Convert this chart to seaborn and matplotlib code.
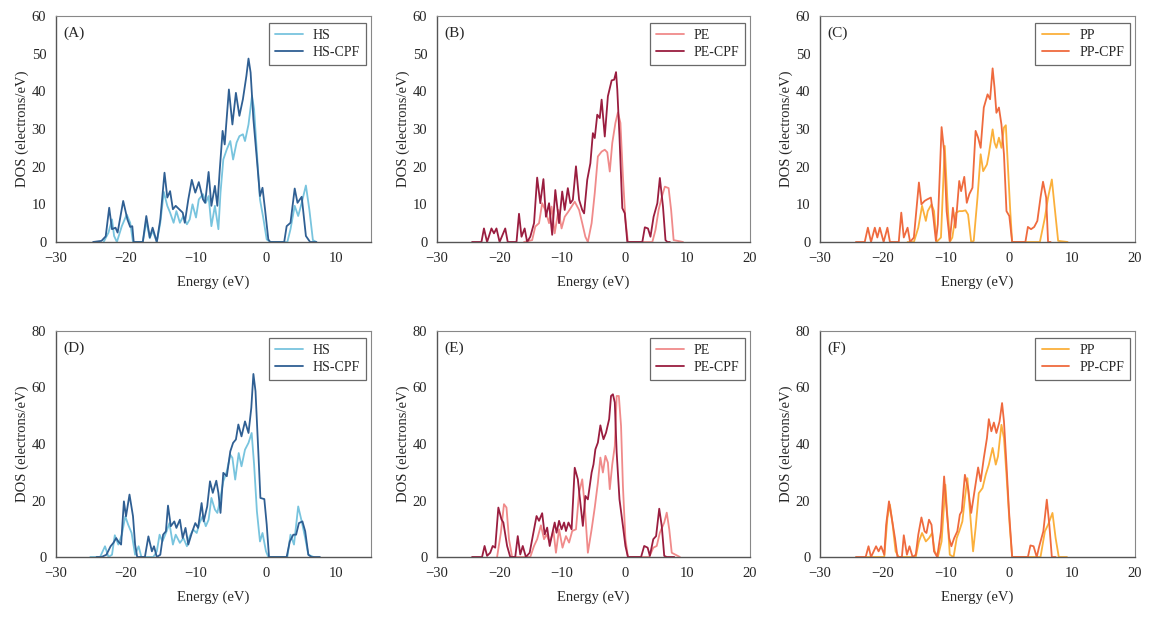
import numpy as np
import pandas as pd
import seaborn as sns
import matplotlib.pyplot as plt

# ---- data (energy in eV, DOS in electrons/eV) ----
# (A) HS / HS-CPF
hs_a_e = [-23.2, -22.5, -22.0, -21.7, -21.3, -20.6, -19.9, -19.4, -19.0, -17.6, -17.1, -16.6, -16.2, -15.6,
          -15.1, -14.6, -14.1, -13.7, -13.2, -12.8, -12.3, -11.8, -11.3, -10.9, -10.5, -10.0, -9.6, -9.0,
          -8.6, -8.2, -7.8, -7.3, -6.8, -6.5, -6.1, -5.6, -5.1, -4.7, -4.2, -3.8, -3.3, -3.0, -2.5, -2.0,
          -1.7, -1.3, -0.86, -0.4, 0.1, 0.6, 3.05, 3.5, 4.1, 4.6, 5.1, 5.7, 6.2, 6.7, 7.2]
hs_a_dos = [0, 2.5, 6.0, 1.6, 0, 4.2, 7.3, 5.1, 0, 0, 5.5, 1.0, 3.0, 0,
            5.1, 13.3, 9.6, 7.8, 5.1, 8.2, 5.1, 6.9, 4.7, 6.0, 10.0, 6.5, 11.3, 12.7,
            10.4, 12.2, 4.2, 9.6, 3.4, 13.1, 21.9, 24.6, 26.8, 21.9, 26.4, 28.1, 28.6, 26.8, 31.2, 38.8,
            35.2, 23.7, 11.3, 6.5, 0.7, 0, 0, 3.4, 9.6, 6.9, 10.4, 15.0, 8.5, 0.5, 0]
hscpf_a_e = [-24.7, -23.5, -22.9, -22.4, -22.0, -21.5, -21.2, -20.4, -19.8, -19.4, -19.1, -18.9, -17.6, -17.1,
             -16.6, -16.2, -15.6, -15.1, -14.5, -14.1, -13.7, -13.3, -12.9, -12.4, -11.9, -11.6, -11.1, -10.6,
             -10.1, -9.6, -9.0, -8.7, -8.2, -7.8, -7.3, -6.95, -6.6, -6.2, -5.9, -5.3, -4.8, -4.3, -3.8,
             -3.3, -2.8, -2.5, -2.2, -1.8, -1.3, -0.86, -0.5, -0.14, 0.33, 0.6, 2.6, 2.95, 3.5, 4.1, 4.5,
             5.1, 5.7, 6.3, 7.2]
hscpf_a_dos = [0, 0.3, 1.5, 9.1, 3.4, 3.8, 2.5, 10.9, 6.0, 4.0, 4.2, 0, 0, 6.9,
               1.2, 3.8, 0, 6.0, 18.4, 11.8, 13.5, 8.7, 9.6, 8.7, 7.8, 5.1, 11.3, 16.5,
               13.1, 15.9, 11.3, 10.4, 18.6, 9.6, 14.9, 9.6, 19.3, 29.5, 25.9, 40.5, 31.2, 39.6, 33.5,
               37.9, 44.1, 48.7, 45.0, 32.6, 21.9, 12.2, 14.4, 8.7, 0.7, 0, 0, 4.2, 5.1, 14.2, 10.4,
               12.0, 1.6, 0, 0]

# (B) PE / PE-CPF
pe_b_e = [-16.1, -14.8, -14.3, -13.7, -13.2, -12.7, -12.1, -11.7, -11.2, -10.6, -10.1, -9.6, -9.0, -8.5,
          -8.0, -7.3, -6.8, -6.3, -5.9, -5.3, -4.8, -4.3, -3.7, -3.2, -2.8, -2.4, -2.0, -1.5, -1.1, -0.7,
          -0.3, 0.1, 0.5, 4.4, 4.9, 5.4, 6.0, 6.4, 7.0, 7.4, 7.8, 9.3]
pe_b_dos = [0, 0.5, 4.1, 5.0, 10.3, 8.5, 5.0, 9.4, 2.3, 8.5, 3.6, 6.7, 8.1, 9.4,
            10.7, 8.5, 5.0, 1.4, 0, 5.0, 13.0, 22.7, 24.0, 24.5, 23.8, 18.7, 26.3, 31.6, 34.4, 31.6,
            17.4, 5.9, 0, 0, 3.2, 8.5, 12.5, 14.7, 14.3, 8.5, 0.5, 0]
pecpf_b_e = [-24.4, -22.9, -22.5, -22.0, -21.3, -20.9, -20.5, -20.0, -19.1, -18.7, -17.3, -16.9, -16.5, -16.0,
             -15.6, -15.1, -14.5, -14.0, -13.5, -13.0, -12.6, -12.1, -11.6, -11.1, -10.5, -10.0, -9.6, -9.1,
             -8.7, -8.3, -7.8, -7.3, -6.8, -6.5, -6.0, -5.5, -5.1, -4.8, -4.4, -4.0, -3.7, -3.2, -2.7,
             -2.1, -1.7, -1.4, -1.2, -0.85, -0.4, 0.0, 0.4, 2.8, 3.2, 3.7, 4.1, 4.6, 5.2, 5.6, 6.1,
             6.5, 6.8, 7.2]
pecpf_b_dos = [0, 0, 3.6, 0, 3.6, 2.3, 3.6, 0, 3.6, 0, 0, 7.5, 1.4, 3.6,
               0, 1.4, 5.0, 17.1, 10.3, 16.7, 6.7, 10.3, 1.9, 13.8, 5.0, 13.4, 8.5, 14.3,
               10.3, 11.2, 20.1, 11.2, 8.5, 7.6, 16.5, 20.9, 28.9, 27.6, 33.8, 32.9, 37.8, 28.0, 38.7,
               42.9, 43.1, 45.1, 40.5, 28.0, 9.0, 7.6, 0, 0, 3.9, 3.6, 1.4, 6.7, 10.3, 17.0, 9.4,
               0.5, 0, 0]

# (C) PP / PP-CPF
pp_c_e = [-16.1, -15.1, -14.4, -13.8, -13.2, -12.9, -12.3, -11.9, -11.5, -10.8, -10.2, -9.8, -9.4, -9.0,
          -8.4, -7.9, -7.4, -6.9, -6.5, -6.0, -5.6, -5.0, -4.5, -4.1, -3.5, -3.2, -2.6, -2.3, -2.0,
          -1.6, -1.2, -0.8, -0.5, -0.3, 0.2, 0.5, 4.9, 5.7, 6.2, 6.8, 7.2, 7.8, 9.3]
pp_c_dos = [0, 0, 3.8, 9.6, 5.6, 8.2, 10.0, 8.2, 0, 1.2, 25.5, 11.8, 0, 1.2,
            7.8, 8.2, 8.2, 8.4, 7.3, 0, 0.3, 11.8, 23.3, 18.8, 20.6, 23.3, 29.9, 26.4, 25.0,
            27.7, 25.0, 30.4, 31.0, 24.2, 8.2, 0, 0, 6.5, 11.8, 16.6, 10.0, 0.3, 0]
ppcpf_c_e = [-24.3, -22.9, -22.4, -21.9, -21.3, -20.9, -20.5, -19.9, -19.3, -18.9, -17.5, -17.1, -16.7, -16.1,
             -15.7, -15.1, -14.3, -13.9, -13.4, -13.0, -12.4, -12.0, -11.6, -11.3, -10.7, -10.3, -9.9, -9.4,
             -8.9, -8.5, -7.9, -7.6, -7.1, -6.7, -6.3, -5.8, -5.3, -4.9, -4.5, -4.0, -3.4, -3.0, -2.6,
             -2.3, -2.0, -1.6, -1.2, -0.8, -0.4, 0.05, 0.5, 2.6, 3.0, 3.5, 4.0, 4.5, 5.0, 5.4, 5.9,
             6.2, 6.6]
ppcpf_c_dos = [0, 0, 3.8, 0, 3.8, 1.2, 3.8, 0, 3.8, 0, 0, 7.8, 1.2, 3.8,
               0, 1.2, 15.8, 10.0, 10.9, 11.3, 11.8, 6.5, 0.3, 4.7, 30.5, 24.2, 8.2, 0.3,
               9.1, 3.8, 16.2, 13.5, 17.3, 10.4, 12.7, 14.4, 29.5, 27.7, 25.0, 35.7, 39.2, 37.9, 46.1,
               41.0, 34.3, 35.7, 31.2, 23.3, 8.2, 6.9, 0, 0, 4.0, 3.4, 4.0, 5.6, 11.8, 16.0, 11.8,
               0, 0]

# (D) HS / HS-CPF
hs_d_e = [-25.1, -23.7, -23.0, -22.5, -22.0, -21.6, -21.1, -20.6, -20.1, -19.7, -19.2, -18.7, -18.2, -17.8,
          -16.1, -15.6, -15.2, -14.8, -14.2, -13.8, -13.3, -12.9, -12.3, -11.8, -11.3, -10.9, -10.4, -9.9,
          -9.5, -9.05, -8.6, -8.2, -7.8, -7.3, -6.95, -6.6, -6.1, -5.6, -5.1, -4.8, -4.4, -3.9, -3.5,
          -3.0, -2.5, -2.05, -1.7, -1.3, -0.86, -0.5, 0.0, 0.33, 3.05, 3.5, 4.0, 4.6, 5.1, 5.6, 6.05,
          6.8]
hs_d_dos = [0, 0, 3.8, 0, 0.8, 7.7, 4.4, 7.9, 14.4, 11.5, 8.5, 0.8, 3.8, 0,
            0, 2.0, 7.9, 5.5, 9.1, 12.0, 4.4, 7.9, 5.0, 6.7, 3.8, 7.3, 9.7, 8.5,
            12.0, 14.4, 10.9, 13.2, 20.9, 16.8, 15.6, 19.7, 26.8, 30.3, 36.2, 35.1, 27.4, 36.8, 32.1,
            38.0, 40.4, 43.9, 32.7, 16.2, 5.5, 8.5, 2.0, 0, 0, 7.9, 4.4, 17.9, 12.6, 6.7, 0.8,
            0]
hscpf_d_e = [-24.2, -23.5, -22.8, -22.2, -21.8, -21.4, -21.1, -20.7, -20.3, -20.0, -19.5, -19.0, -18.7, -18.4,
             -17.3, -16.8, -16.3, -16.0, -15.6, -15.1, -14.7, -14.3, -14.0, -13.6, -13.1, -12.8, -12.3, -11.9,
             -11.5, -11.1, -10.6, -10.1, -9.7, -9.2, -8.9, -8.4, -8.0, -7.6, -7.1, -6.8, -6.5, -6.1, -5.6,
             -5.1, -4.7, -4.3, -3.95, -3.5, -3.0, -2.5, -2.1, -1.8, -1.5, -1.1, -0.8, -0.24, 0.1, 0.43,
             2.95, 3.4, 3.9, 4.3, 4.7, 5.2, 5.6, 6.05, 6.5, 7.7]
hscpf_d_dos = [0, 0, 0.8, 3.8, 5.0, 6.7, 5.5, 4.4, 19.7, 14.4, 22.1, 14.4, 4.4, 0,
               0, 7.3, 2.0, 3.8, 0, 0.8, 7.9, 9.1, 18.2, 10.9, 12.6, 10.3, 13.2, 6.7,
               10.3, 4.4, 8.5, 12.0, 10.3, 19.1, 12.6, 17.9, 26.8, 22.7, 27.0, 22.7, 15.6, 29.8, 28.6,
               37.4, 40.4, 41.6, 46.9, 42.7, 48.0, 43.9, 52.8, 64.8, 58.7, 37.4, 20.9, 20.5, 11.5, 0,
               0, 5.5, 7.9, 7.9, 12.0, 12.6, 9.1, 0.8, 0, 0]

# (E) PE / PE-CPF
pe_e_e = [-20.4, -19.8, -19.3, -18.9, -18.5, -18.0, -15.1, -14.5, -14.0, -13.4, -12.9, -12.5, -12.0, -11.4,
          -11.0, -10.5, -9.95, -9.4, -8.9, -8.4, -7.8, -7.3, -6.8, -6.4, -5.9, -5.3, -4.8, -4.3, -3.9,
          -3.5, -3.1, -2.7, -2.4, -2.0, -1.6, -1.3, -0.95, -0.6, -0.3, 0.1, 0.5, 3.9, 4.55, 5.1, 5.6,
          6.3, 6.7, 7.1, 7.5, 8.8]
pe_e_dos = [0, 8.6, 18.7, 17.5, 6.3, 0, 0, 3.9, 6.3, 11.2, 6.3, 8.0, 5.1, 9.2,
            1.5, 9.8, 3.3, 7.4, 5.1, 9.2, 9.8, 22.8, 27.5, 18.1, 1.5, 9.8, 17.5, 26.3, 35.2,
            29.9, 35.8, 33.4, 24.0, 32.8, 39.3, 57.0, 57.0, 46.4, 25.1, 6.3, 0, 0, 3.3, 3.9, 8.6,
            12.2, 15.7, 9.8, 1.5, 0]
pecpf_e_e = [-24.4, -22.8, -22.4, -22.0, -21.5, -21.1, -20.7, -20.2, -19.7, -19.4, -18.8, -18.3, -17.5, -17.1,
             -16.7, -16.3, -15.8, -15.2, -14.6, -14.1, -13.7, -13.2, -12.8, -12.4, -12.0, -11.5, -11.2, -10.9,
             -10.5, -10.1, -9.7, -9.4, -9.0, -8.5, -8.0, -7.5, -7.1, -6.7, -6.3, -5.9, -5.3, -5.0, -4.7,
             -4.3, -3.9, -3.6, -3.4, -3.0, -2.5, -2.2, -1.9, -1.6, -1.3, -0.85, -0.3, 0.1, 0.5, 2.6,
             3.1, 3.65, 4.0, 4.55, 5.0, 5.5, 5.9, 6.3, 6.7, 7.9]
pecpf_e_dos = [0, 0, 3.9, 0.4, 1.5, 3.9, 3.3, 17.5, 13.3, 12.2, 3.9, 0, 0, 7.4,
               0.9, 3.9, 0, 1.5, 8.6, 14.5, 12.8, 15.5, 8.0, 10.4, 3.9, 9.2, 12.2, 8.6,
               12.8, 9.8, 12.2, 9.2, 12.2, 9.8, 31.6, 27.5, 19.2, 11.0, 21.6, 20.4, 29.9, 32.8, 38.1,
               40.5, 46.6, 43.4, 41.7, 44.0, 48.8, 57.0, 57.6, 54.7, 37.0, 20.4, 11.0, 3.9, 0, 0,
               3.9, 3.3, 0.4, 6.3, 7.4, 17.1, 11.0, 0.4, 0, 0]

# (F) PP / PP-CPF
pp_f_e = [-22.5, -19.8, -19.3, -18.9, -18.5, -18.0, -17.5, -14.8, -14.3, -13.8, -13.2, -12.7, -12.2, -11.8,
          -11.3, -10.7, -10.1, -9.8, -9.4, -8.8, -8.3, -7.9, -7.4, -7.0, -6.6, -6.2, -5.7, -5.3, -4.8,
          -4.2, -3.7, -3.2, -2.6, -2.1, -1.75, -1.2, -0.8, -0.4, 0.1, 0.5, 5.0, 5.7, 6.2, 6.9, 7.4,
          7.9, 9.2]
pp_f_dos = [0, 0, 13.8, 18.5, 12.0, 2.0, 0, 0, 5.5, 8.5, 5.5, 6.7, 8.5, 2.0,
            0, 5.5, 25.6, 15.0, 0.8, 0, 6.7, 9.1, 12.6, 20.9, 27.9, 16.2, 2.0, 10.3, 22.6,
            24.4, 29.1, 32.7, 38.6, 32.7, 35.6, 46.8, 42.1, 29.1, 11.4, 0, 0, 9.1, 11.4, 15.6, 6.7,
            0, 0]
ppcpf_f_e = [-24.3, -22.75, -22.3, -21.9, -21.1, -20.7, -20.3, -19.8, -19.5, -19.05, -18.7, -18.1, -17.7, -17.0,
             -16.7, -16.2, -15.8, -15.3, -14.8, -14.4, -13.9, -13.4, -13.1, -12.7, -12.3, -11.9, -11.4, -10.8,
             -10.3, -9.9, -9.5, -9.15, -8.7, -8.2, -7.8, -7.5, -7.0, -6.5, -6.0, -5.4, -4.9, -4.5, -4.0,
             -3.5, -3.2, -2.8, -2.4, -2.0, -1.5, -1.1, -0.8, -0.4, 0.0, 0.5, 3.0, 3.4, 3.9, 4.4, 4.8,
             5.45, 6.0, 6.4, 6.8, 7.4]
ppcpf_f_dos = [0, 0, 3.8, 0, 3.8, 2.0, 3.8, 0.8, 11.4, 19.7, 15.0, 6.7, 0, 0,
               7.7, 0.8, 3.8, 0, 0.8, 7.9, 14.0, 9.1, 8.5, 13.2, 11.4, 2.0, 0, 9.1,
               28.5, 16.7, 6.7, 3.8, 6.7, 9.1, 15.0, 16.2, 29.1, 24.4, 15.6, 24.4, 31.7, 26.8, 35.0,
               42.1, 48.8, 44.5, 47.6, 43.9, 48.0, 54.5, 48.0, 32.7, 16.2, 0, 0, 4.1, 3.8, 0, 3.8,
               9.1, 20.3, 11.4, 0, 0]

panel_tags = ["(A)", "(B)", "(C)", "(D)", "(E)", "(F)"]
xlims = [(-30, 15), (-30, 20), (-30, 20)]
ylims = [60, 80]

hs_light, hs_dark = "#78c4de", "#2f5f93"
pe_light, pe_dark = "#f08a8a", "#9a1d3f"
pp_light, pp_dark = "#fbb03b", "#ef6a3e"

panels = [
    [(hs_a_e, hs_a_dos, "HS", hs_light), (hscpf_a_e, hscpf_a_dos, "HS-CPF", hs_dark)],
    [(pe_b_e, pe_b_dos, "PE", pe_light), (pecpf_b_e, pecpf_b_dos, "PE-CPF", pe_dark)],
    [(pp_c_e, pp_c_dos, "PP", pp_light), (ppcpf_c_e, ppcpf_c_dos, "PP-CPF", pp_dark)],
    [(hs_d_e, hs_d_dos, "HS", hs_light), (hscpf_d_e, hscpf_d_dos, "HS-CPF", hs_dark)],
    [(pe_e_e, pe_e_dos, "PE", pe_light), (pecpf_e_e, pecpf_e_dos, "PE-CPF", pe_dark)],
    [(pp_f_e, pp_f_dos, "PP", pp_light), (ppcpf_f_e, ppcpf_f_dos, "PP-CPF", pp_dark)],
]

sns.set_style("white")
plt.rcParams["font.family"] = ["Liberation Serif", "DejaVu Serif"]
plt.rcParams["font.size"] = 10.5

fig = plt.figure(figsize=(11.54, 6.18), dpi=100)
W, H = 1154, 618
lefts = [56, 437, 820]
widths = [315, 313, 315]
tops = [16, 331]
ax_h = 226

for i, series in enumerate(panels):
    r, c = divmod(i, 3)
    ax = fig.add_axes([lefts[c] / W, 1 - (tops[r] + ax_h) / H, widths[c] / W, ax_h / H])
    for e, d, name, col in series:
        df = pd.DataFrame({"Energy": e, "DOS": d})
        sns.lineplot(data=df, x="Energy", y="DOS", ax=ax, color=col, lw=1.3,
                     label=name, sort=False, estimator=None,
                     solid_joinstyle="round", solid_capstyle="round")
    ax.set_xlim(*xlims[c])
    ax.set_ylim(0, ylims[r])
    ax.set_xticks(np.arange(-30, xlims[c][1] + 1, 10))
    ax.set_yticks(np.arange(0, ylims[r] + 1, 10 if r == 0 else 20))
    ax.set_xticklabels(["\u221230", "\u221220", "\u221210", "0", "10", "20"][:len(ax.get_xticks())])
    ax.set_xlabel("Energy (eV)", labelpad=8)
    ax.set_ylabel("DOS (electrons/eV)", labelpad=2)
    ax.tick_params(axis="both", direction="out", length=4, width=0.8, color="#333333", pad=3)
    for s in ["left", "bottom"]:
        ax.spines[s].set_color("#555555")
        ax.spines[s].set_linewidth(1.0)
    for s in ["top", "right"]:
        ax.spines[s].set_color("#888888")
        ax.spines[s].set_linewidth(0.8)
    ax.text(0.025, 0.925, panel_tags[i], transform=ax.transAxes, fontsize=11, va="center")
    leg = ax.legend(loc="upper right", bbox_to_anchor=(0.985, 0.97), frameon=True, fancybox=False,
                    edgecolor="#444444", fontsize=10, handlelength=2.0, borderpad=0.45,
                    labelspacing=0.3, handletextpad=0.7, borderaxespad=0.0)
    leg.get_frame().set_linewidth(0.9)

fig.savefig("out.png", dpi=100)
